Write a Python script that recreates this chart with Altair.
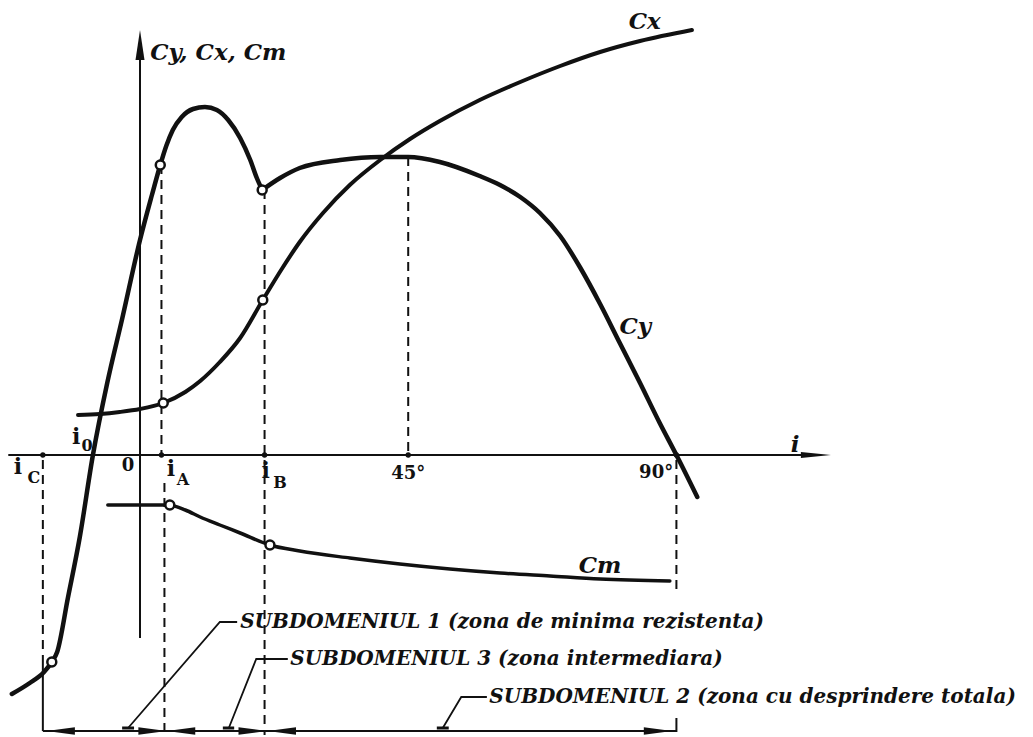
import altair as alt
import pandas as pd

# Angle of incidence i (degrees) and aerodynamic coefficients (arbitrary units)
I_DOMAIN = [-23.49, 149.83]
C_DOMAIN = [-2.82, 4.55]

# Characteristic angles
i_C, i_0, i_A, i_B = -16.3, -7.9, 3.6, 20.9

# Lift coefficient Cy (two branches meeting at the break point i_B)
cy_i = [-21.5, -18.5, -16.1, -14.8, -13.9, -12.1, -10.1, -7.9, -5.5, -3.0, 0.0, 2.0,
        3.4, 4.4, 5.5, 7.0, 8.9, 10.9, 12.9, 14.8, 16.8, 18.5, 19.6, 20.5,
        20.5, 23.5, 26.8, 33.6, 40.3, 45.0, 50.3, 57.0, 60.4, 63.8, 67.1, 70.5,
        73.8, 77.2, 80.5, 83.9, 87.2, 90.0, 93.5]
cy_c = [-2.39, -2.28, -2.17, -2.07, -1.97, -1.43, -0.82, 0.0, 0.72, 1.36, 2.15, 2.60,
        2.90, 3.09, 3.25, 3.38, 3.46, 3.48, 3.45, 3.35, 3.17, 2.95, 2.77, 2.65,
        2.65, 2.77, 2.87, 2.95, 2.98, 2.98, 2.93, 2.79, 2.70, 2.58, 2.42, 2.19,
        1.88, 1.51, 1.12, 0.72, 0.32, 0.0, -0.42]
cy_branch = [0] * 24 + [1] * 19

# Drag coefficient Cx
cx_i = [-10.4, -6.7, -3.4, 0.0, 3.9, 7.6, 10.1, 13.4, 16.8, 20.6, 24.0, 26.8, 30.7,
        35.2, 40.3, 45.3, 50.3, 57.0, 63.8, 70.5, 77.2, 83.9, 92.6]
cx_c = [0.40, 0.41, 0.43, 0.46, 0.52, 0.63, 0.74, 0.93, 1.17, 1.55, 1.88, 2.13, 2.42,
        2.70, 2.95, 3.16, 3.34, 3.55, 3.73, 3.89, 4.03, 4.14, 4.25]

# Moment coefficient Cm
cm_i = [-5.4, 0.0, 4.7, 7.6, 10.1, 13.4, 16.8, 21.8, 26.8, 35.2, 43.6, 52.0, 60.4,
        68.8, 77.2, 88.9]
cm_c = [-0.50, -0.50, -0.50, -0.55, -0.62, -0.70, -0.78, -0.90, -0.96, -1.03, -1.09,
        -1.14, -1.18, -1.21, -1.24, -1.26]

# Marked points on the curves (open circles)
ring_i = [-14.8, 3.4, 20.5, 3.9, 20.6, 5.0, 21.8]
ring_c = [-2.07, 2.90, 2.65, 0.52, 1.55, -0.50, -0.90]

# Points marked on the i axis
dot_i = [i_C, i_A, i_B, 45, 90]

# Dashed construction lines: angle, from, to
dash_i = [i_C, i_A, 4.1, i_B, 45, 90]
dash_c1 = [-0.05, 2.90, -0.28, 2.65, 2.98, -0.05]
dash_c2 = [-2.07, 0.0, -2.80, -2.80, 0.0, -1.35]

# Solid construction lines: angle, from, to
solid_i = [i_C, 90]
solid_c1 = [-2.07, -2.63]
solid_c2 = [-2.76, -2.77]

# Dimension line of the sub-domains
dim_c = -2.76
dim_from, dim_to = i_C, 90

# Arrowheads on the dimension line: centre angle and direction
head_i = [-13.3, 2.1, 6.9, 18.9, 23.8, 86.9]
head_dir = ["left", "right", "left", "right", "left", "right"]

# Leader lines of the sub-domain captions (three vertices each)
lead_id = [1, 1, 1, 3, 3, 3, 2, 2, 2]
lead_i = [16.3, 13.4, -2.0, 24.8, 19.5, 14.9, 58.2, 53.9, 50.8]
lead_c = [-1.67, -1.67, -2.73, -2.04, -2.04, -2.73, -2.42, -2.42, -2.73]
lead_order = [0, 1, 2] * 3
foot_i1 = [-3.0, 13.9, 49.8]
foot_i2 = [-1.0, 15.8, 51.8]
foot_c = -2.73

captions = ["SUBDOMENIUL 1 (zona de minima rezistenta)",
            "SUBDOMENIUL 3 (zona intermediara)",
            "SUBDOMENIUL 2 (zona cu desprindere totala)"]
caption_i = [16.8, 25.2, 58.6]
caption_c = [-1.67, -2.04, -2.42]

# Curve names
name_txt = ["Cx", "Cy", "Cm", "i"]
name_i = [84.7, 83.1, 77.2, 109.9]
name_c = [4.33, 1.28, -1.11, 0.10]

# Tick labels on the i axis
tick_txt = ["0", "45°", "90°"]
tick_i = [-2.0, 45, 86.6]
tick_c = [-0.11, -0.19, -0.18]

# i with subscripts
sym_i = [-20.5, -10.7, 5.2, 21.1]
sym_c = [-0.12, 0.18, -0.14, -0.16]
sub_txt = ["C", "0", "A", "B"]
sub_i = [-17.8, -8.9, 7.2, 23.5]
sub_c = [-0.23, 0.09, -0.25, -0.28]

INK = "#111111"
SERIF = "DejaVu Serif"

xs = alt.Scale(domain=I_DOMAIN, nice=False, zero=False)
ys = alt.Scale(domain=C_DOMAIN, nice=False, zero=False)


def X(field="i"):
    return alt.X(f"{field}:Q", scale=xs, axis=None)


def Y(field="c"):
    return alt.Y(f"{field}:Q", scale=ys, axis=None)


layers = []

# Axes
axis_df = pd.DataFrame({"i": [-22.1, 0.0], "i2": [111.6, 0.0],
                        "c": [0.0, 4.10], "c2": [0.0, -1.83]})
layers.append(alt.Chart(axis_df).mark_rule(color=INK, strokeWidth=2).encode(
    x=X(), x2="i2:Q", y=Y(), y2="c2:Q"))
arrow_df = pd.DataFrame({"i": [113.4, 0.0], "c": [0.0, 4.10],
                         "shape": ["M1,0L-1,-0.2L-1,0.2Z", "M0,-1L0.3,1L-0.3,1Z"]})
layers.append(alt.Chart(arrow_df).mark_point(filled=True, color=INK, opacity=1, size=900).encode(
    x=X(), y=Y(), shape=alt.Shape("shape:N", scale=None)))

# Dashed construction lines
dash_df = pd.DataFrame({"i": dash_i, "c": dash_c1, "c2": dash_c2})
layers.append(alt.Chart(dash_df).mark_rule(color=INK, strokeWidth=2, strokeDash=[9, 6]).encode(
    x=X(), y=Y(), y2="c2:Q"))
solid_df = pd.DataFrame({"i": solid_i, "c": solid_c1, "c2": solid_c2})
layers.append(alt.Chart(solid_df).mark_rule(color=INK, strokeWidth=2).encode(
    x=X(), y=Y(), y2="c2:Q"))

# Dimension line with arrowheads
dim_df = pd.DataFrame({"i": [dim_from], "i2": [dim_to], "c": [dim_c]})
layers.append(alt.Chart(dim_df).mark_rule(color=INK, strokeWidth=2).encode(
    x=X(), x2="i2:Q", y=Y()))
head_df = pd.DataFrame({"i": head_i, "c": [dim_c] * len(head_i),
                        "shape": ["M-1,0L1,-0.26L1,0.26Z" if d == "left" else "M1,0L-1,-0.26L-1,0.26Z"
                                  for d in head_dir]})
layers.append(alt.Chart(head_df).mark_point(filled=True, color=INK, opacity=1, size=800).encode(
    x=X(), y=Y(), shape=alt.Shape("shape:N", scale=None)))

# Leader lines
lead_df = pd.DataFrame({"id": lead_id, "i": lead_i, "c": lead_c, "o": lead_order})
layers.append(alt.Chart(lead_df).mark_line(color=INK, strokeWidth=1.8).encode(
    x=X(), y=Y(), detail="id:N", order="o:Q"))
foot_df = pd.DataFrame({"i": foot_i1, "i2": foot_i2, "c": [foot_c] * 3})
layers.append(alt.Chart(foot_df).mark_rule(color=INK, strokeWidth=3).encode(
    x=X(), x2="i2:Q", y=Y()))

# Coefficient curves
cy_df = pd.DataFrame({"i": cy_i, "c": cy_c, "b": cy_branch})
layers.append(alt.Chart(cy_df).mark_line(color=INK, strokeWidth=4.5, interpolate="monotone",
                                         strokeCap="round").encode(
    x=X(), y=Y(), detail="b:N"))
cx_df = pd.DataFrame({"i": cx_i, "c": cx_c})
layers.append(alt.Chart(cx_df).mark_line(color=INK, strokeWidth=4, interpolate="monotone",
                                         strokeCap="round").encode(x=X(), y=Y()))
cm_df = pd.DataFrame({"i": cm_i, "c": cm_c})
layers.append(alt.Chart(cm_df).mark_line(color=INK, strokeWidth=3.5, interpolate="monotone",
                                         strokeCap="round").encode(x=X(), y=Y()))

# Axis dots and open circles
dot_df = pd.DataFrame({"i": dot_i, "c": [0.0] * len(dot_i)})
layers.append(alt.Chart(dot_df).mark_point(filled=True, color=INK, opacity=1, size=28).encode(
    x=X(), y=Y()))
ring_df = pd.DataFrame({"i": ring_i, "c": ring_c})
layers.append(alt.Chart(ring_df).mark_point(shape="circle", filled=True, fill="white", stroke=INK,
                                            strokeWidth=2.5, opacity=1, size=80).encode(
    x=X(), y=Y()))

# Texts
title_df = pd.DataFrame({"i": [1.7], "c": [4.02], "t": ["Cy, Cx, Cm"]})
layers.append(alt.Chart(title_df).mark_text(font=SERIF, fontStyle="italic", fontWeight="bold",
                                            fontSize=23, align="left", baseline="middle",
                                            color=INK).encode(x=X(), y=Y(), text="t:N"))
name_df = pd.DataFrame({"i": name_i, "c": name_c, "t": name_txt})
layers.append(alt.Chart(name_df).mark_text(font=SERIF, fontStyle="italic", fontWeight="bold",
                                           fontSize=23, align="center", baseline="middle",
                                           color=INK).encode(x=X(), y=Y(), text="t:N"))
cap_df = pd.DataFrame({"i": caption_i, "c": caption_c, "t": captions})
layers.append(alt.Chart(cap_df).mark_text(font=SERIF, fontStyle="italic", fontWeight="bold",
                                          fontSize=20, align="left", baseline="middle",
                                          color=INK).encode(x=X(), y=Y(), text="t:N"))
tick_df = pd.DataFrame({"i": tick_i, "c": tick_c, "t": tick_txt})
layers.append(alt.Chart(tick_df).mark_text(font=SERIF, fontWeight="bold", fontSize=18,
                                           align="center", baseline="middle",
                                           color=INK).encode(x=X(), y=Y(), text="t:N"))
sym_df = pd.DataFrame({"i": sym_i, "c": sym_c, "t": ["i"] * 4})
layers.append(alt.Chart(sym_df).mark_text(font=SERIF, fontWeight="bold", fontSize=22,
                                          align="center", baseline="middle",
                                          color=INK).encode(x=X(), y=Y(), text="t:N"))
sub_df = pd.DataFrame({"i": sub_i, "c": sub_c, "t": sub_txt})
layers.append(alt.Chart(sub_df).mark_text(font=SERIF, fontWeight="bold", fontSize=16,
                                          align="center", baseline="middle",
                                          color=INK).encode(x=X(), y=Y(), text="t:N"))

chart = alt.layer(*layers).properties(
    width=1033, height=737, padding=0, autosize=alt.AutoSizeParams(type="none"),
    background="white"
).configure_view(stroke=None)

chart.save("out.html", embed_options={"renderer": "svg", "actions": False})
